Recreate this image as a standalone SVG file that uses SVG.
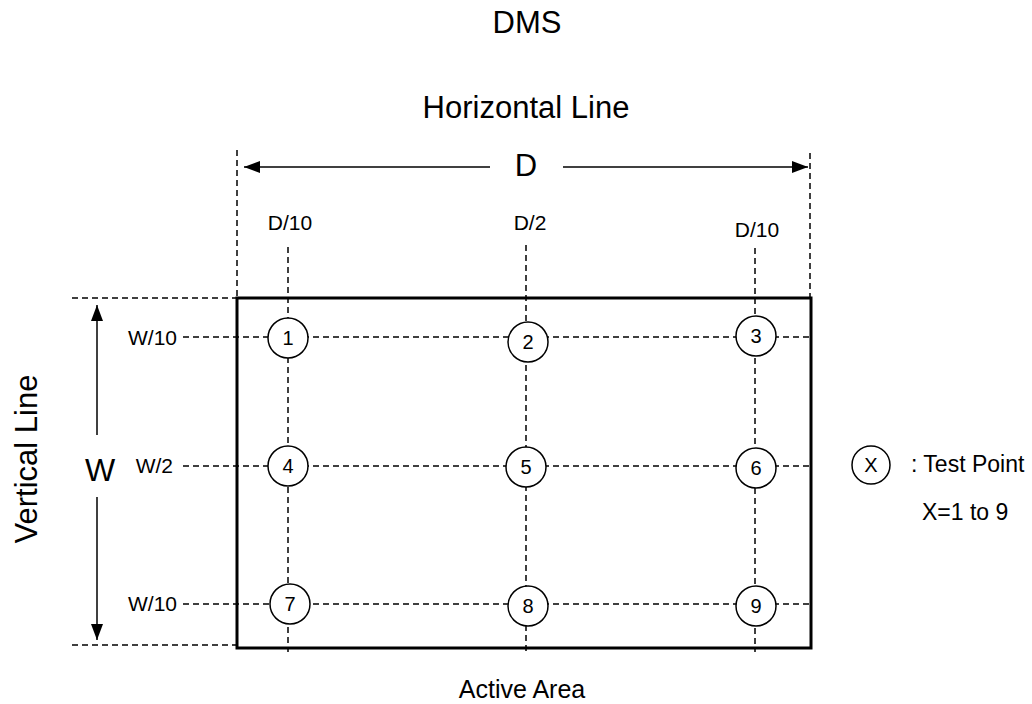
<svg xmlns="http://www.w3.org/2000/svg" width="1032" height="704" viewBox="0 0 1032 704">
<style>
text{font-family:"Liberation Sans",Arial,sans-serif;fill:#000}
.d{stroke:#000;stroke-width:1.5;stroke-dasharray:6,4;fill:none}
.s{stroke:#000;stroke-width:1.5;fill:none}
.c{stroke:#000;stroke-width:1.5;fill:#fff}
.n{font-size:20px;text-anchor:middle}
.l{font-size:21px}
.b{font-size:31px;text-anchor:middle}
</style>
<defs>
<marker id="ah2" viewBox="0 0 16 12" refX="16" refY="6" markerWidth="16" markerHeight="12" markerUnits="userSpaceOnUse" orient="auto"><path d="M0,0L16,6L0,12z" fill="#000"/></marker>
</defs>
<rect width="1032" height="704" fill="#fff"/>
<text class="b" x="527" y="33">DMS</text>
<text class="b" x="526" y="118">Horizontal Line</text>
<g id="connectors">
<line class="d" x1="237" y1="150" x2="237" y2="298"/>
<line class="d" x1="810" y1="153" x2="810" y2="298"/>
<line class="d" x1="72" y1="298" x2="237" y2="298"/>
<line class="d" x1="72" y1="645" x2="237" y2="645"/>
<line class="s" x1="490" y1="167" x2="244" y2="167" marker-end="url(#ah2)"/>
<line class="s" x1="563" y1="167" x2="808" y2="167" marker-end="url(#ah2)"/>
<line class="s" x1="97" y1="435" x2="97" y2="305" marker-end="url(#ah2)"/>
<line class="s" x1="97" y1="497" x2="97" y2="640" marker-end="url(#ah2)"/>
<line class="d" x1="288" y1="247" x2="288" y2="652"/>
<line class="d" x1="526" y1="245" x2="526" y2="652"/>
<line class="d" x1="755" y1="248" x2="755" y2="652"/>
<line class="d" x1="183" y1="337" x2="810" y2="337"/>
<line class="d" x1="183" y1="466" x2="810" y2="466"/>
<line class="d" x1="183" y1="604" x2="810" y2="604"/>
</g>
<rect id="active-area" x="237" y="298" width="574" height="350" fill="none" stroke="#000" stroke-width="3"/>
<text x="526" y="176" font-size="31" text-anchor="middle">D</text>
<text x="100" y="481" font-size="32" text-anchor="middle">W</text>
<text class="l" x="290" y="230" text-anchor="middle">D/10</text>
<text class="l" x="530" y="230" text-anchor="middle">D/2</text>
<text class="l" x="757" y="237" text-anchor="middle">D/10</text>
<text class="l" x="177" y="345" text-anchor="end">W/10</text>
<text class="l" x="173" y="473" text-anchor="end">W/2</text>
<text class="l" x="177" y="611" text-anchor="end">W/10</text>
<text class="b" x="0" y="0" transform="translate(37,459) rotate(-90)">Vertical Line</text>
<g id="p1"><circle class="c" cx="288" cy="338" r="20"/><text class="n" x="288" y="345">1</text></g>
<g id="p2"><circle class="c" cx="528" cy="342" r="20"/><text class="n" x="528" y="349">2</text></g>
<g id="p3"><circle class="c" cx="756" cy="336" r="20"/><text class="n" x="756" y="343">3</text></g>
<g id="p4"><circle class="c" cx="288" cy="466" r="20"/><text class="n" x="288" y="473">4</text></g>
<g id="p5"><circle class="c" cx="526" cy="467" r="20"/><text class="n" x="526" y="474">5</text></g>
<g id="p6"><circle class="c" cx="756" cy="468" r="20"/><text class="n" x="756" y="475">6</text></g>
<g id="p7"><circle class="c" cx="290" cy="604" r="20"/><text class="n" x="290" y="611">7</text></g>
<g id="p8"><circle class="c" cx="528" cy="606" r="20"/><text class="n" x="528" y="613">8</text></g>
<g id="p9"><circle class="c" cx="756" cy="606" r="20"/><text class="n" x="756" y="613">9</text></g>
<g id="legend"><circle class="c" cx="871" cy="465" r="19"/><text class="n" x="871" y="472">X</text>
<text x="911" y="472" font-size="23">: Test Point</text>
<text x="922" y="520" font-size="23">X=1 to 9</text></g>
<text x="522" y="698" font-size="25" text-anchor="middle">Active Area</text>
</svg>
